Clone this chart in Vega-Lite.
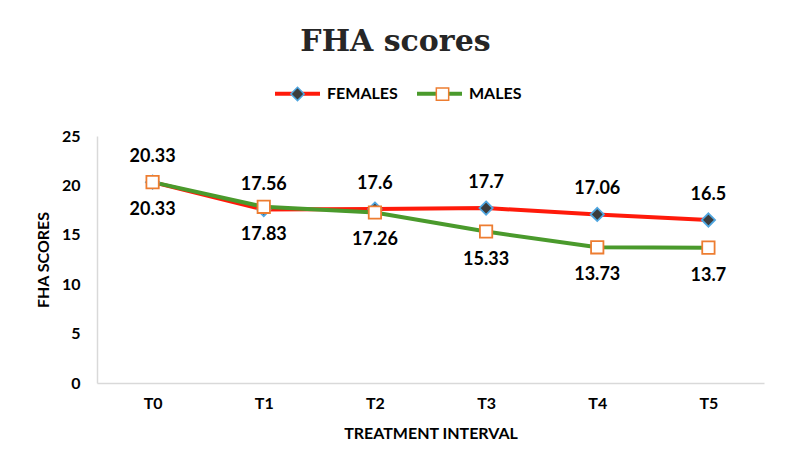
{
  "$schema": "https://vega.github.io/schema/vega-lite/v6.json",
  "width": 667,
  "height": 247,
  "autosize": {"type": "none"},
  "padding": {"left": 97, "top": 136, "right": 26, "bottom": 92},
  "background": "white",
  "config": {
    "view": {"stroke": null},
    "font": "Lato",
    "legend": {
      "padding": 0,
      "orient": "none",
      "direction": "horizontal",
      "legendX": 176,
      "legendY": -67,
      "labelFont": "Lato",
      "labelFontSize": 16,
      "labelFontWeight": "bold",
      "labelColor": "#000000",
      "labelOffset": 5
    }
  },
  "title": {
    "text": "FHA scores",
    "font": "DejaVu Serif",
    "fontSize": 30,
    "fontWeight": "bold",
    "color": "#262626",
    "anchor": "middle",
    "offset": 12,
    "dx": -35
  },
  "data": {
    "values": [
      {"T": "T0", "Gender": "FEMALES", "Score": 20.33},
      {"T": "T1", "Gender": "FEMALES", "Score": 17.56},
      {"T": "T2", "Gender": "FEMALES", "Score": 17.6},
      {"T": "T3", "Gender": "FEMALES", "Score": 17.7},
      {"T": "T4", "Gender": "FEMALES", "Score": 17.06},
      {"T": "T5", "Gender": "FEMALES", "Score": 16.5},
      {"T": "T0", "Gender": "MALES", "Score": 20.33},
      {"T": "T1", "Gender": "MALES", "Score": 17.83},
      {"T": "T2", "Gender": "MALES", "Score": 17.26},
      {"T": "T3", "Gender": "MALES", "Score": 15.33},
      {"T": "T4", "Gender": "MALES", "Score": 13.73},
      {"T": "T5", "Gender": "MALES", "Score": 13.7}
    ]
  },
  "encoding": {
    "x": {
      "field": "T",
      "type": "ordinal",
      "scale": {"type": "point", "padding": 0.5},
      "axis": {
        "title": "TREATMENT INTERVAL",
        "labelAngle": 0,
        "ticks": false,
        "domainColor": "#D9D9D9",
        "domainWidth": 1.5,
        "labelFont": "Lato",
        "labelFontSize": 16,
        "labelFontWeight": "bold",
        "labelColor": "#000000",
        "labelPadding": 12,
        "titleFont": "Lato",
        "titleFontSize": 16,
        "titleFontWeight": "bold",
        "titleColor": "#000000",
        "titlePadding": 14
      }
    },
    "y": {
      "field": "Score",
      "type": "quantitative",
      "scale": {"domain": [0, 25], "nice": false},
      "axis": {
        "title": "FHA SCORES",
        "values": [0, 5, 10, 15, 20, 25],
        "grid": false,
        "ticks": false,
        "domainColor": "#D9D9D9",
        "domainWidth": 1.5,
        "labelFont": "Lato",
        "labelFontSize": 16,
        "labelFontWeight": "bold",
        "labelColor": "#000000",
        "labelPadding": 17,
        "titleFont": "Lato",
        "titleFontSize": 16,
        "titleFontWeight": "bold",
        "titleColor": "#000000",
        "titlePadding": 10
      }
    }
  },
  "layer": [
    {
      "mark": {"type": "line", "strokeWidth": 4},
      "encoding": {
        "color": {
          "field": "Gender",
          "type": "nominal",
          "scale": {"domain": ["FEMALES", "MALES"], "range": ["#FF1A0A", "#4A9A2C"]},
          "legend": {
            "title": null,
            "symbolType": "stroke",
            "symbolSize": 2025,
            "symbolStrokeWidth": 4,
            "columnPadding": 11
          }
        }
      }
    },
    {
      "mark": {"type": "point", "filled": true, "size": 2256, "strokeWidth": 1.8, "opacity": 1},
      "encoding": {
        "shape": {
          "field": "Gender",
          "type": "nominal",
          "scale": {"range": ["M0,-0.28L0.28,0L0,0.28L-0.28,0Z", "M-0.26,-0.26H0.26V0.26H-0.26Z"]},
          "legend": {
            "title": null,
            "symbolSize": 2256,
            "symbolStrokeWidth": 1.5,
            "labelExpr": "''",
            "columnPadding": 91
          }
        },
        "fill": {
          "field": "Gender",
          "type": "nominal",
          "scale": {"range": ["#3C3C3C", "#FFFFFF"]},
          "legend": {
            "title": null,
            "symbolSize": 2256,
            "symbolStrokeWidth": 1.5,
            "labelExpr": "''",
            "columnPadding": 91
          }
        },
        "stroke": {
          "field": "Gender",
          "type": "nominal",
          "scale": {"range": ["#4FA6E0", "#ED7D31"]},
          "legend": {
            "title": null,
            "symbolSize": 2256,
            "symbolStrokeWidth": 1.5,
            "labelExpr": "''",
            "columnPadding": 91
          }
        }
      }
    },
    {
      "transform": [{"filter": "datum.Gender === 'FEMALES'"}],
      "mark": {"type": "text", "font": "Lato", "fontSize": 18, "fontWeight": "bold", "color": "#000000", "baseline": "middle", "dy": -25},
      "encoding": {"text": {"field": "Score", "type": "nominal"}}
    },
    {
      "transform": [{"filter": "datum.Gender === 'MALES'"}],
      "mark": {"type": "text", "font": "Lato", "fontSize": 18, "fontWeight": "bold", "color": "#000000", "baseline": "middle", "dy": 28},
      "encoding": {"text": {"field": "Score", "type": "nominal"}}
    }
  ]
}
